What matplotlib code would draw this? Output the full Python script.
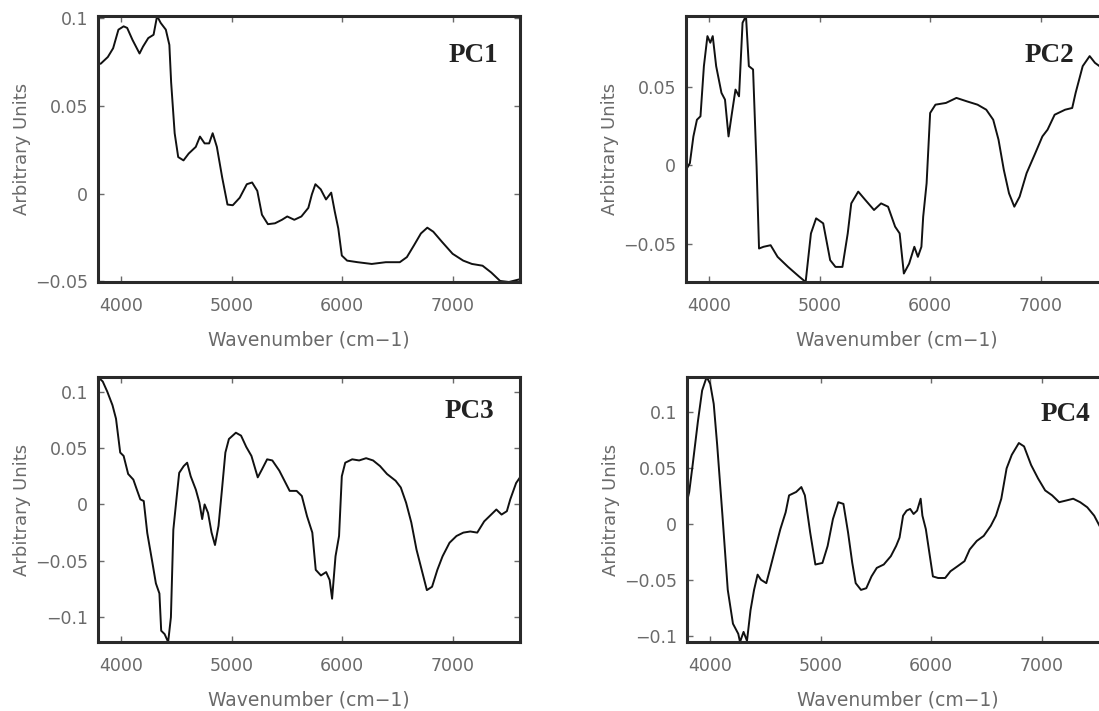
import matplotlib
matplotlib.use("Agg")
import matplotlib.pyplot as plt
from matplotlib.ticker import FuncFormatter

# ---- data (wavenumber in cm-1, loading in arbitrary units) ----
pc1_wn = [3790, 3815, 3879, 3927, 3975, 4022, 4054, 4102, 4166, 4197, 4245, 4293, 4325,
          4357, 4404, 4436, 4452, 4484, 4516, 4564, 4611, 4675, 4713, 4755, 4796, 4828,
          4866, 4914, 4962, 5010, 5073, 5137, 5185, 5232, 5274, 5328, 5392, 5455, 5503,
          5567, 5631, 5694, 5726, 5758, 5806, 5854, 5901, 5933, 5965, 5997, 6045, 6140,
          6268, 6395, 6522, 6586, 6650, 6713, 6771, 6825, 6904, 7000, 7096, 7175, 7271,
          7350, 7430, 7510, 7610]
pc1_val = [0.074, 0.0742, 0.078, 0.083, 0.0936, 0.0955, 0.0946, 0.0878, 0.080, 0.0839,
           0.0888, 0.0907, 0.1014, 0.0975, 0.0936, 0.0849, 0.0636, 0.0345, 0.0209, 0.019,
           0.0229, 0.0267, 0.0326, 0.0287, 0.0287, 0.0345, 0.0267, 0.0093, -0.0062,
           -0.0066, -0.0023, 0.0054, 0.0064, 0.0016, -0.012, -0.0174, -0.0169, -0.0149,
           -0.013, -0.0149, -0.013, -0.0081, -0.0004, 0.0054, 0.0025, -0.0033, 0.0006,
           -0.0101, -0.0198, -0.0353, -0.0382, -0.0391, -0.0401, -0.0391, -0.0391,
           -0.0362, -0.0295, -0.0227, -0.0194, -0.0217, -0.0275, -0.0343, -0.0382,
           -0.0401, -0.0411, -0.045, -0.0498, -0.0504, -0.0488]

pc2_wn = [3790, 3825, 3857, 3889, 3921, 3952, 3984, 4010, 4032, 4063, 4111, 4143, 4175,
          4206, 4238, 4270, 4302, 4333, 4359, 4397, 4429, 4451, 4492, 4556, 4619, 4714,
          4810, 4873, 4921, 4968, 5032, 5095, 5143, 5206, 5254, 5286, 5349, 5413, 5492,
          5556, 5619, 5683, 5724, 5762, 5810, 5857, 5889, 5921, 5937, 5968, 6000, 6048,
          6143, 6238, 6333, 6429, 6508, 6571, 6619, 6667, 6714, 6762, 6810, 6873, 6952,
          7016, 7063, 7127, 7222, 7286, 7317, 7381, 7444, 7492, 7533, 7570, 7610]
pc2_val = [-0.003, 0.0013, 0.0183, 0.0289, 0.0311, 0.063, 0.0821, 0.0779, 0.0821, 0.063,
           0.046, 0.0417, 0.0183, 0.0332, 0.0481, 0.0438, 0.0906, 0.0949, 0.063, 0.0609,
           -0.0009, -0.053, -0.0519, -0.0509, -0.0583, -0.0647, -0.0706, -0.0743,
           -0.0434, -0.0338, -0.037, -0.0604, -0.0647, -0.0647, -0.0434, -0.0243,
           -0.0168, -0.0221, -0.0285, -0.0243, -0.0264, -0.0391, -0.0434, -0.0689,
           -0.0626, -0.0519, -0.0583, -0.0519, -0.0328, -0.0115, 0.0332, 0.0385, 0.0396,
           0.0428, 0.0406, 0.0385, 0.0353, 0.0289, 0.0162, -0.003, -0.0179, -0.0264,
           -0.02, -0.0051, 0.0077, 0.0183, 0.0226, 0.0321, 0.0353, 0.0364, 0.046, 0.063,
           0.0694, 0.0651, 0.063, 0.060, 0.058]

pc3_wn = [3790, 3833, 3874, 3921, 3953, 3991, 4022, 4063, 4110, 4142, 4173, 4204, 4236,
          4283, 4314, 4346, 4362, 4393, 4425, 4450, 4472, 4503, 4525, 4566, 4597, 4629,
          4676, 4708, 4733, 4755, 4786, 4818, 4849, 4881, 4912, 4943, 4975, 5038, 5085,
          5132, 5179, 5236, 5274, 5321, 5368, 5431, 5478, 5525, 5588, 5635, 5682, 5730,
          5761, 5808, 5855, 5887, 5909, 5940, 5972, 5997, 6028, 6091, 6154, 6217, 6280,
          6343, 6406, 6484, 6531, 6579, 6626, 6673, 6720, 6767, 6814, 6862, 6909, 6972,
          7035, 7097, 7160, 7223, 7286, 7349, 7396, 7443, 7491, 7522, 7553, 7575, 7610]
pc3_val = [0.113, 0.109, 0.100, 0.088, 0.076, 0.046, 0.043, 0.027, 0.022, 0.013, 0.0045,
           0.003, -0.0254, -0.052, -0.070, -0.079, -0.112, -0.115, -0.122, -0.100,
           -0.0224, 0.0075, 0.028, 0.034, 0.037, 0.025, 0.013, 0.0015, -0.013, 0.0,
           -0.0075, -0.025, -0.036, -0.019, 0.013, 0.046, 0.058, 0.0636, 0.061, 0.051,
           0.043, 0.024, 0.031, 0.040, 0.039, 0.030, 0.021, 0.012, 0.012, 0.0075,
           -0.0104, -0.025, -0.058, -0.063, -0.060, -0.067, -0.0836, -0.046, -0.028,
           0.025, 0.037, 0.040, 0.039, 0.041, 0.039, 0.034, 0.027, 0.021, 0.015, 0.0015,
           -0.016, -0.040, -0.058, -0.076, -0.073, -0.058, -0.046, -0.034, -0.028,
           -0.025, -0.024, -0.025, -0.015, -0.009, -0.0045, -0.009, -0.006, 0.0045,
           0.013, 0.019, 0.024]

pc4_wn = [3790, 3810, 3841, 3889, 3927, 3968, 4000, 4032, 4063, 4111, 4159, 4206, 4254,
          4270, 4302, 4333, 4365, 4397, 4429, 4460, 4508, 4540, 4587, 4635, 4683, 4714,
          4778, 4825, 4857, 4905, 4952, 5016, 5063, 5111, 5159, 5206, 5248, 5286, 5317,
          5365, 5413, 5460, 5508, 5571, 5635, 5683, 5714, 5746, 5778, 5810, 5841, 5873,
          5905, 5921, 5952, 5984, 6016, 6063, 6127, 6175, 6238, 6302, 6349, 6413, 6476,
          6540, 6587, 6635, 6683, 6730, 6794, 6841, 6905, 6968, 7032, 7095, 7159, 7222,
          7286, 7349, 7413, 7476, 7524, 7560, 7610]
pc4_val = [0.020, 0.0286, 0.0526, 0.0917, 0.119, 0.131, 0.125, 0.107, 0.0707, 0.0075,
           -0.0586, -0.0887, -0.0977, -0.105, -0.096, -0.104, -0.0767, -0.0586, -0.045,
           -0.0496, -0.0526, -0.0406, -0.0226, -0.0045, 0.0105, 0.0256, 0.0286, 0.033,
           0.0256, -0.0075, -0.036, -0.0346, -0.0195, 0.0045, 0.0195, 0.018, -0.0075,
           -0.0346, -0.0526, -0.0586, -0.0571, -0.0466, -0.039, -0.036, -0.0286,
           -0.0195, -0.012, 0.0075, 0.012, 0.0135, 0.009, 0.012, 0.0226, 0.0075,
           -0.0045, -0.0256, -0.0466, -0.048, -0.048, -0.042, -0.0376, -0.033, -0.0226,
           -0.015, -0.0105, -0.0015, 0.0075, 0.0226, 0.0496, 0.0617, 0.0722, 0.0692,
           0.0526, 0.0406, 0.030, 0.0256, 0.0195, 0.021, 0.0226, 0.0195, 0.015, 0.0075,
           -0.0015, -0.008, -0.015]

panel_names = ["PC1", "PC2", "PC3", "PC4"]
x_ticks = [4000, 5000, 6000, 7000]
y_ticks = {
    "PC1": [-0.05, 0, 0.05, 0.1],
    "PC2": [-0.05, 0, 0.05],
    "PC3": [-0.1, -0.05, 0, 0.05, 0.1],
    "PC4": [-0.1, -0.05, 0, 0.05, 0.1],
}

grey = "#6a6a6a"


def fmt(v, pos):
    s = "%g" % round(v, 4)
    return s.replace("-", "\u2212")


fig = plt.figure(figsize=(10.99, 7.11), dpi=100)

W, H = 1099.0, 711.0
# axes boxes in pixels: left, top, right, bottom
boxes = {
    "PC1": (98, 16, 520, 282),
    "PC2": (686, 16, 1108, 282),
    "PC3": (98, 377, 520, 642),
    "PC4": (687, 377, 1109, 642),
}
label_pos = {
    "PC1": (0.948, 0.85),
    "PC2": (0.919, 0.85),
    "PC3": (0.94, 0.87),
    "PC4": (0.955, 0.857),
}
series = {
    "PC1": (pc1_wn, pc1_val),
    "PC2": (pc2_wn, pc2_val),
    "PC3": (pc3_wn, pc3_val),
    "PC4": (pc4_wn, pc4_val),
}

for name in panel_names:
    l, t, r, b = boxes[name]
    ax = fig.add_axes([l / W, 1 - b / H, (r - l) / W, (b - t) / H])
    wn, val = series[name]
    ax.plot(wn, val, color="#111111", lw=1.4)

    # tight axes like the original
    ax.set_xlim(min(wn), max(wn))
    ax.set_ylim(min(val), max(val))

    ax.set_xticks(x_ticks)
    ax.set_yticks(y_ticks[name])
    ax.yaxis.set_major_formatter(FuncFormatter(fmt))
    ax.tick_params(direction="in", length=4, width=1, colors=grey,
                   labelsize=12.5, top=True, right=True)
    ax.tick_params(axis="x", pad=11)
    ax.tick_params(axis="y", pad=7)
    for sp in ax.spines.values():
        sp.set_linewidth(2.2)
        sp.set_color("#2a2a2a")

    ax.set_xlabel("Wavenumber (cm\u22121)", fontsize=13.5, color=grey, labelpad=11)
    ax.set_ylabel("Arbitrary Units", fontsize=13, color=grey, labelpad=3)

    lx, ly = label_pos[name]
    ax.text(lx, ly, name, transform=ax.transAxes, ha="right", va="center",
            fontsize=19.5, fontweight="bold", family="Liberation Serif",
            color="#222222")

fig.savefig("out.png", dpi=100)
